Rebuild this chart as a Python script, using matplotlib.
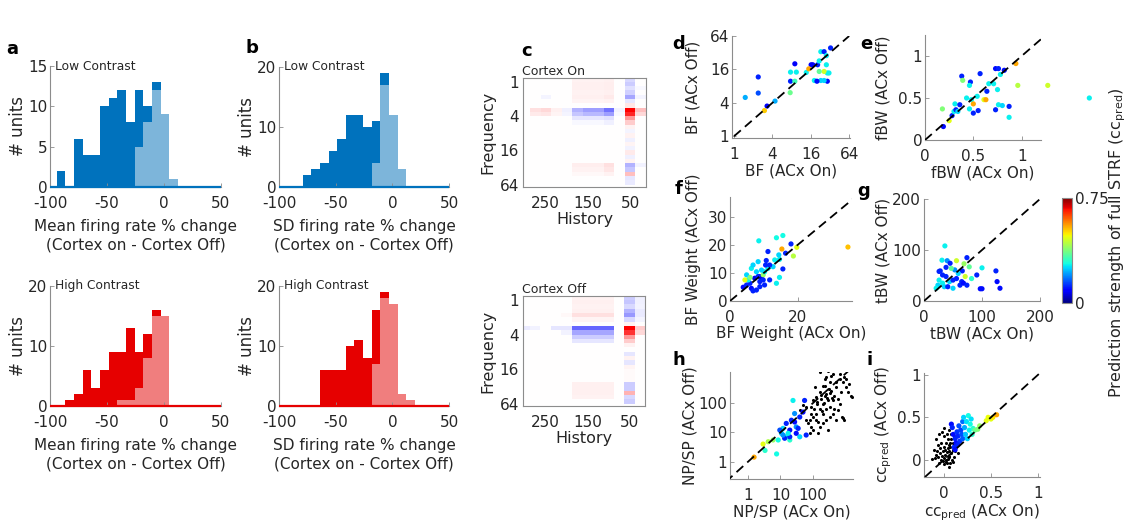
import numpy as np
import matplotlib
matplotlib.use("Agg")
import matplotlib.pyplot as plt
from matplotlib.ticker import FixedLocator, FixedFormatter, NullFormatter, LogLocator

plt.rcParams['font.family'] = ['DejaVu Sans']
plt.rcParams['axes.unicode_minus'] = False

# ---------------------------------------------------------------- data
# histogram bins (% change), 7.6 wide
bin_edges = np.linspace(-101.8, 50.2, 21)

mean_low_all = [0, 2, 0, 6, 4, 4, 10, 11, 12, 8, 12, 10, 13, 9, 1, 0, 0, 0, 0, 0]
mean_low_ns = [0, 0, 0, 0, 0, 0, 0, 0, 0, 0, 5, 8, 12, 9, 1, 0, 0, 0, 0, 0]
mean_high_all = [0, 0, 1, 2, 6, 3, 6, 9, 9, 13, 9, 12, 16, 15, 0, 0, 0, 0, 0, 0]
mean_high_ns = [0, 0, 0, 0, 0, 0, 0, 0, 1, 1, 3, 8, 15, 15, 0, 0, 0, 0, 0, 0]
sd_low_all = [0, 0, 0, 2, 3, 4, 6, 8, 12, 12, 10, 11, 19, 12, 3, 0, 0, 0, 0, 0]
sd_low_ns = [0, 0, 0, 0, 0, 0, 0, 0, 0, 0, 0, 4, 17, 12, 3, 0, 0, 0, 0, 0]
sd_high_all = [0, 0, 0, 0, 0, 6, 6, 6, 10, 11, 8, 16, 19, 17, 2, 1, 0, 0, 0, 0]
sd_high_ns = [0, 0, 0, 0, 0, 0, 0, 0, 0, 0, 0, 7, 18, 17, 2, 1, 0, 0, 0, 0]

# STRF: history columns (ms) and quarter-octave frequency rows (log2 kHz)
history_ms = [300, 275, 250, 225, 200, 175, 150, 125, 100, 75, 50, 25]
freq_oct_edges = np.linspace(-0.25, 6.25, 27)

strf_on = [
    [0, 0, 0, 0, 0, .05, .05, .05, .06, 0, -.15, 0],
    [0, 0, 0, 0, 0, .06, .06, .06, .07, 0, -.20, 0],
    [0, 0, 0, 0, 0, .06, .06, .06, .07, 0, -.12, -.03],
    [0, 0, 0, 0, 0, .05, .05, .05, .06, 0, -.18, 0],
    [0, 0, -.04, 0, 0, .06, .06, .06, .08, 0, -.35, -.04],
    [0, 0, 0, 0, 0, .04, .04, .04, .05, 0, -.10, 0],
    [0, 0, 0, 0, 0, 0, 0, 0, 0, 0, .10, 0],
    [0, .12, .15, .06, -.06, -.30, -.38, -.38, -.55, -.05, 1.0, .25],
    [0, .08, .10, .04, -.04, -.22, -.28, -.28, -.38, -.03, .85, .15],
    [0, 0, 0, 0, 0, -.10, -.10, -.10, -.12, 0, .40, 0],
    [0, 0, 0, 0, 0, -.03, -.03, -.03, -.06, 0, .20, 0],
    [0, 0, 0, 0, 0, 0, 0, 0, 0, 0, .05, 0],
    [0, 0, 0, 0, 0, 0, 0, 0, 0, 0, -.04, 0],
    [0, 0, 0, 0, 0, 0, 0, 0, 0, 0, .05, 0],
    [0, 0, 0, 0, 0, 0, 0, 0, 0, 0, -.06, 0],
    [0, 0, 0, 0, 0, 0, 0, 0, 0, 0, .04, 0],
    [0, 0, 0, 0, 0, 0, 0, 0, 0, 0, -.05, 0],
    [0, 0, 0, 0, 0, 0, 0, 0, 0, 0, .08, 0],
    [0, 0, 0, 0, 0, 0, 0, 0, 0, 0, -.06, 0],
    [0, 0, 0, 0, 0, 0, 0, 0, 0, 0, .05, 0],
    [0, 0, 0, 0, 0, .07, .07, .07, .12, 0, -.30, -.05],
    [0, 0, 0, 0, 0, .05, .05, .05, .10, 0, -.22, 0],
    [0, 0, 0, 0, 0, .03, .03, .03, .05, 0, .25, 0],
    [0, 0, 0, 0, 0, 0, 0, 0, 0, 0, -.10, 0],
    [0, 0, 0, 0, 0, 0, 0, 0, 0, 0, -.08, 0],
    [0, 0, 0, 0, 0, 0, 0, 0, 0, 0, 0, 0],
]

strf_off = [
    [0, 0, 0, 0, 0, .05, .05, .05, .05, 0, -.20, -.06],
    [0, 0, 0, 0, 0, .06, .06, .06, .06, 0, -.22, -.06],
    [0, 0, 0, 0, 0, .05, .05, .05, .05, 0, -.15, -.05],
    [0, 0, 0, 0, 0, .06, .06, .06, .06, 0, -.30, -.08],
    [0, 0, 0, 0, .03, .12, .12, .12, .12, 0, -.40, -.08],
    [0, 0, 0, 0, 0, .04, .04, .04, .04, 0, -.15, -.04],
    [0, 0, 0, 0, 0, 0, 0, 0, 0, 0, .05, 0],
    [-.08, -.05, 0, -.10, -.10, -.60, -.60, -.60, -.60, 0, 1.0, .20],
    [0, 0, 0, 0, -.05, -.35, -.35, -.35, -.35, 0, .80, .15],
    [0, 0, 0, 0, 0, -.20, -.20, -.20, -.20, 0, .40, 0],
    [0, 0, 0, 0, 0, -.10, -.10, -.10, -.10, 0, .20, 0],
    [0, 0, 0, 0, 0, 0, 0, 0, 0, 0, .05, 0],
    [0, 0, 0, 0, 0, 0, 0, 0, 0, 0, 0, 0],
    [0, 0, 0, 0, 0, 0, 0, 0, 0, 0, -.10, 0],
    [0, 0, 0, 0, 0, 0, 0, 0, 0, 0, .05, 0],
    [0, 0, 0, 0, 0, 0, 0, 0, 0, 0, -.10, 0],
    [0, 0, 0, 0, 0, 0, 0, 0, 0, 0, .04, 0],
    [0, 0, 0, 0, 0, 0, 0, 0, 0, 0, .02, 0],
    [0, 0, 0, 0, 0, 0, 0, 0, 0, 0, .02, 0],
    [0, 0, 0, 0, 0, 0, 0, 0, 0, 0, .02, 0],
    [0, 0, 0, 0, 0, .06, .06, .06, .06, 0, -.20, 0],
    [0, 0, 0, 0, 0, .06, .06, .06, .06, 0, -.20, 0],
    [0, 0, 0, 0, 0, .06, .06, .06, .06, 0, .30, 0],
    [0, 0, 0, 0, 0, .05, .05, .05, .05, 0, -.15, 0],
    [0, 0, 0, 0, 0, 0, 0, 0, 0, 0, -.20, 0],
    [0, 0, 0, 0, 0, 0, 0, 0, 0, 0, 0, 0],
]

# d: best frequency (kHz)
bf_on = [1.5, 2.4, 2.4, 3.3, 3.0, 4.4, 7.6, 7.7, 7.7, 9.0, 9.5, 9.0, 13.6, 16.2, 14.9, 18.2,
         17.2, 20.5, 21.7, 23.0, 25.9, 28.1, 32.7, 28.1, 29.1, 25.9, 23.0, 20.0, 30.9, 29.1,
         25.9, 21.7]
bf_off = [5.0, 11.7, 6.0, 3.5, 2.9, 4.3, 6.1, 9.8, 14.3, 20.2, 14.3, 9.8, 14.1, 19.4, 16.4,
          10.1, 19.4, 19.4, 22.8, 33.4, 33.4, 28.3, 39.0, 19.4, 13.8, 14.7, 10.1, 9.8, 13.8,
          9.8, 10.1, 14.7]
bf_cc = [.22, .12, .15, .08, .52, .22, .36, .12, .27, .08, .27, .32, .27, .08, .55, .27,
         .08, .12, .27, .27, .12, .27, .12, .27, .27, .45, .25, .10, .27, .10, .25, .35]

# e: frequency bandwidth (octaves)
fbw_on = [.18, .25, .19, .28, .30, .32, .34, .31, .36, .38, .39, .47, .46, .43, .48, .50, .54,
          .57, .61, .63, .66, .73, .75, .76, .80, .73, .76, .78, .82, .87, .87, .94, .96, .50,
          .46, .55, .64, .71, 1.27, 1.70]
fbw_off = [.37, .23, .16, .29, .34, .36, .34, .43, .42, .76, .71, .69, .65, .50, .48, .43, .52,
           .79, .48, .48, .67, .36, .60, .42, .41, .85, .85, .78, .83, .40, .27, .91, .65, .32,
           .37, .35, .58, .67, .65, .50]
fbw_cc = [.38, .47, .10, .12, .27, .12, .25, .27, .12, .12, .38, .12, .27, .27, .27, .55, .27,
          .12, .47, .55, .27, .12, .27, .27, .25, .10, .12, .27, .10, .12, .27, .55, .43, .12,
          .27, .12, .12, .27, .45, .27]

# f: weight at best frequency
bfw_on = [8.5, 13.7, 15.6, 15.3, 18.0, 19.7, 18.7, 34.8, 15.6, 14.6, 10.7, 12.7, 11.7, 13.7,
          14.6, 3.9, 4.9, 5.9, 5.4, 6.3, 6.8, 7.8, 7.3, 7.8, 6.3, 8.8, 8.3, 9.3, 8.8, 9.8,
          10.2, 11.2, 11.7, 10.5, 9.8, 10.2, 8.8, 9.3, 4.9, 5.9, 4.4, 13.2, 14.4, 16.4, 11.2,
          8.3, 6.8]
bfw_off = [21.4, 22.5, 23.3, 18.5, 20.3, 19.1, 16.0, 19.2, 11.4, 14.8, 14.4, 12.2, 7.5, 6.3,
           8.4, 4.9, 5.7, 6.3, 7.5, 4.5, 3.6, 3.9, 8.1, 10.4, 11.6, 8.7, 8.7, 7.8, 6.9, 9.3,
           10.4, 11.6, 12.8, 12.8, 7.5, 5.7, 5.1, 11.0, 9.3, 8.4, 7.5, 14.6, 16.4, 17.0, 17.6,
           14.0, 12.8]
bfw_cc = [.27, .28, .28, .55, .12, .47, .43, .53, .12, .27, .12, .25, .12, .27, .27, .10, .12,
          .12, .27, .10, .12, .12, .07, .25, .27, .07, .12, .07, .12, .40, .27, .27, .12, .12,
          .12, .12, .12, .25, .25, .38, .47, .27, .25, .12, .12, .25, .25]

# g: temporal bandwidth (ms)
tbw_on = [36, 31, 40, 28, 38, 56, 74, 78, 66, 71, 82, 91, 100, 124, 126, 131, 97, 100, 26,
          32, 38, 44, 50, 56, 62, 65, 68, 59, 53, 47, 45, 32, 24, 21, 35, 41, 50, 74, 69, 26]
tbw_off = [108, 80, 79, 59, 66, 79, 85, 67, 59, 48, 44, 51, 65, 59, 38, 25, 24, 24, 41, 35,
           48, 38, 41, 44, 31, 38, 35, 54, 61, 64, 74, 51, 31, 25, 28, 28, 25, 31, 73, 58]
tbw_cc = [.27, .27, .20, .12, .12, .45, .12, .35, .12, .45, .30, .12, .27, .12, .10, .10, .10,
          .10, .27, .27, .12, .25, .12, .12, .12, .12, .10, .25, .20, .35, .12, .12, .25, .27,
          .25, .12, .25, .12, .40, .12]

# h: noise power / signal power (log10), fitted units coloured, others black
npsp_on_log = [.18, .46, .62, .77, .52, .88, .93, 1.03, 1.08, 1.18, 1.29, 1.39, 1.60, 1.49,
               1.75, 1.70, 1.60, 1.44, 1.29, 1.13, 1.29, 1.49, 1.80, 1.18, 1.34, 1.55, 1.44,
               .98, 1.08, 1.24]
npsp_off_log = [.15, .60, .68, .74, .38, .26, .74, .97, 1.14, .85, .74, 2.10, .85, 1.19, 2.10,
                1.70, 1.53, 1.36, 1.08, .80, .85, .97, .91, 1.31, 1.42, 1.14, 1.65, 1.08, .91,
                .97]
npsp_cc = [.55, .47, .42, .40, .30, .28, .28, .25, .25, .28, .30, .27, .25, .20, .12, .10, .12,
           .10, .10, .12, .12, .10, .12, .12, .12, .12, .20, .15, .20, .27]
npsp_on_log_nofit = [2.22, 2.42, 2.58, 2.84, 2.94, 3.04, 3.14, 3.20, 3.23, 2.73, 2.58, 2.42,
                     2.32, 2.22, 2.11, 2.01, 1.96, 2.32, 2.47, 2.63, 2.78, 2.84, 2.68, 2.53,
                     2.22, 2.11, 1.96, 1.91, 1.86, 2.01, 2.32, 2.42, 2.16, 2.22, 2.32, 2.47,
                     2.63, 2.78, 2.94, 2.99, 2.91, 2.42, 2.27, 2.13, 2.37, 2.53, 2.73, 2.11,
                     1.96, 1.80, 1.80, 1.70, 1.60, 2.06, 2.47, 3.04, 3.09, 2.68, 2.89, 2.53,
                     2.73, 2.01, 1.91, 2.16, 2.84, 2.99, 2.63, 2.37, 2.15, 2.25, 2.35, 2.45,
                     2.55, 2.60, 2.05, 2.30, 2.50, 2.40]
npsp_off_log_nofit = [3.07, 2.90, 2.95, 2.84, 2.73, 2.84, 2.67, 2.27, 2.22, 2.56, 2.44, 2.33,
                      2.61, 2.39, 2.22, 2.10, 1.88, 1.99, 2.10, 2.10, 2.16, 1.99, 1.82, 1.88,
                      1.82, 1.65, 1.65, 1.42, 1.31, 1.53, 1.65, 1.42, 1.36, 1.19, 1.31, 1.08,
                      1.65, 1.76, 1.48, 1.42, 1.53, 1.82, 2.16, 1.99, 2.27, 2.73, 2.73, 1.42,
                      1.19, 1.42, 1.88, 1.93, 1.76, 2.56, 3.13, 2.56, 2.39, 2.27, 2.39, 1.53,
                      1.42, 1.08, 0.97, 0.97, 3.01, 2.92, 3.01, 2.84, 2.05, 2.30, 2.00, 2.20,
                      2.35, 2.20, 1.80, 1.75, 2.50, 2.60]

# i: prediction correlation
cc_on = [.08, .09, .10, .12, .11, .13, .14, .15, .16, .17, .18, .19, .20, .20, .12, .15, .21,
         .22, .23, .24, .25, .26, .27, .28, .30, .29, .31, .33, .36, .38, .45, .47, .50, .52,
         .56]
cc_off = [.42, .38, .30, .25, .15, .20, .33, .28, .40, .22, .35, .30, .45, .25, .12, .18, .50,
          .38, .30, .45, .25, .52, .35, .42, .30, .48, .37, .35, .36, .40, .46, .50, .48, .50,
          .53]
cc_cc = [.10, .12, .10, .12, .12, .10, .13, .12, .15, .13, .14, .15, .17, .16, .10, .12, .25,
         .22, .24, .26, .25, .28, .27, .28, .30, .26, .30, .36, .38, .40, .47, .48, .47, .50,
         .55]
cc_on_nofit = [-.08, -.05, -.02, .00, .03, .06, .08, -.06, -.03, .00, .02, .05, .07, .10, -.10,
               -.07, -.04, -.01, .01, .03, .05, .08, .10, .12, -.09, -.06, -.03, .00, .02, .04,
               .06, .09, -.12, -.05, .00, .03, .07, .11, .13, .15, -.02, .01, .04, -.04, .06,
               .02, -.01, .05, .08, .11, .00, -.08, .10, .04, .07]
cc_off_nofit = [.25, .30, .33, .28, .30, .35, .25, .18, .20, .15, .20, .18, .15, .20, .12, .10,
                .08, .10, .06, .09, .05, .08, .12, .10, .02, .04, .00, .02, -.02, .01, .03, .00,
                .01, -.04, -.05, -.03, -.04, .04, .15, .08, .05, .12, .14, .14, .10, .00, -.01,
                -.08, .30, .28, .38, .06, -.02, .24, .20]

CC_MAX = 0.75

# ---------------------------------------------------------------- figure
W, H = 1127, 523
fig = plt.figure(figsize=(W / 100, H / 100), dpi=100)

AXIS_GRAY = '#8c8c8c'
TEXT = '#262626'
BLUE_DARK, BLUE_LIGHT = '#0072BD', '#7DB5DA'
RED_DARK, RED_LIGHT = '#E60000', '#F07E7E'
XPAD = 6.5


def add_ax(x0, y0, x1, y1):
    ax = fig.add_axes([x0 / W, 1 - y1 / H, (x1 - x0) / W, (y1 - y0) / H])
    ax._px = (x0, x1)
    return ax


def ylabel_at(ax, text, x_center, size=11):
    """Place a vertical y label so its centre sits at pixel column x_center."""
    x0, x1 = ax._px
    right_edge = x_center + size * 100 / 72 * 0.5
    ax.set_ylabel(text, fontsize=size, color=TEXT)
    ax.yaxis.set_label_coords((right_edge - x0) / (x1 - x0), 0.5)


def style(ax, box=False, size=10):
    ax.spines['top'].set_visible(box)
    ax.spines['right'].set_visible(box)
    for s in ax.spines.values():
        s.set_color(AXIS_GRAY)
        s.set_linewidth(0.8)
    ax.tick_params(which='both', direction='in', length=3, width=0.6, color=AXIS_GRAY,
                   labelcolor=TEXT, labelsize=size, pad=2)
    ax.tick_params(which='minor', length=1.5)
    ax.tick_params(axis='x', which='major', pad=XPAD)


def letter(x, y, s):
    fig.text(x / W, 1 - y / H, s, fontsize=13, fontweight='bold', ha='center', va='center',
             color='black')


def hist_panel(box, all_counts, ns_counts, dark, light, ymax, yticks, tag, xlabel):
    ax = add_ax(*box)
    widths = np.diff(bin_edges)
    ax.bar(bin_edges[:-1], all_counts, width=widths, align='edge', color=dark, lw=0)
    ax.bar(bin_edges[:-1], ns_counts, width=widths, align='edge', color=light, lw=0)
    ax.plot([-100, 50], [0, 0], color=dark, lw=1.6, solid_capstyle='butt', zorder=3,
            clip_on=False)
    ax.set_xlim(-100, 50)
    ax.set_ylim(0, ymax)
    ax.set_xticks([-100, -50, 0, 50])
    ax.set_yticks(yticks)
    style(ax, size=11)
    ax.set_ylabel('# units', fontsize=12, color=TEXT, labelpad=1)
    ax.set_xlabel(xlabel, fontsize=11, color=TEXT, linespacing=1.3, labelpad=6)
    ax.text(0.03, 1.0, tag, transform=ax.transAxes, fontsize=8.8, va='center', ha='left',
            color=TEXT)
    return ax


mean_lbl = 'Mean firing rate % change\n(Cortex on - Cortex Off)'
sd_lbl = 'SD firing rate % change\n(Cortex on - Cortex Off)'
hist_panel((50, 66, 221, 187), mean_low_all, mean_low_ns, BLUE_DARK, BLUE_LIGHT, 15,
           [0, 5, 10, 15], 'Low Contrast', mean_lbl)
hist_panel((279, 67, 449, 187), sd_low_all, sd_low_ns, BLUE_DARK, BLUE_LIGHT, 20,
           [0, 10, 20], 'Low Contrast', sd_lbl)
hist_panel((50, 286, 221, 406), mean_high_all, mean_high_ns, RED_DARK, RED_LIGHT, 20,
           [0, 10, 20], 'High Contrast', mean_lbl)
hist_panel((279, 286, 449, 406), sd_high_all, sd_high_ns, RED_DARK, RED_LIGHT, 20,
           [0, 10, 20], 'High Contrast', sd_lbl)

# ---- STRFs
hist_edges = np.array(history_ms + [0]) + 12.5
for box, strf, title in [((523, 78, 646, 187), strf_on, 'Cortex On'),
                         ((523, 296, 645, 406), strf_off, 'Cortex Off')]:
    ax = add_ax(*box)
    ax.pcolormesh(hist_edges, freq_oct_edges, np.array(strf), cmap='bwr', vmin=-1, vmax=1,
                  shading='flat')
    ax.set_xlim(304, 12.5)
    ax.set_ylim(6.14, -0.23)
    ax.set_yticks([0, 2, 4, 6])
    ax.set_yticklabels(['1', '4', '16', '64'])
    ax.set_xticks([250, 150, 50])
    style(ax, box=True, size=11)
    ax.tick_params(length=0)
    ax.tick_params(axis='y', pad=3)
    ax.set_ylabel('Frequency', fontsize=11.5, color=TEXT, labelpad=3)
    ax.set_xlabel('History', fontsize=11.5, color=TEXT, labelpad=1)
    ax.set_title(title, fontsize=9, color=TEXT, loc='left', pad=2, x=-0.01)

# ---- scatter panels
scat_kw = dict(cmap='jet', vmin=0, vmax=CC_MAX, s=14, linewidths=0, zorder=2)


def diag(ax, lo, hi):
    ax.plot([lo, hi], [lo, hi], color='black', lw=1.3, dashes=(5, 3), zorder=3)


# d
ax = add_ax(732, 36, 850, 138)
ax.scatter(bf_on, bf_off, c=bf_cc, **scat_kw)
ax.set_xscale('log', base=2)
ax.set_yscale('log', base=2)
diag(ax, 1, 64)
ax.set_xlim(0.93, 66)
ax.set_ylim(0.93, 64)
for a in (ax.xaxis, ax.yaxis):
    a.set_major_locator(FixedLocator([1, 4, 16, 64]))
    a.set_major_formatter(FixedFormatter(['1', '4', '16', '64']))
    a.set_minor_locator(FixedLocator([]))
style(ax, size=11)
ax.set_xlabel('BF (ACx On)', fontsize=11, color=TEXT, labelpad=1)
ylabel_at(ax, 'BF (ACx Off)', 693)

# e
ax = add_ax(925, 35, 1041, 140)
ax.scatter(fbw_on, fbw_off, c=fbw_cc, clip_on=False, **scat_kw)
diag(ax, 0, 1.25)
ax.set_xlim(0, 1.2)
ax.set_ylim(0, 1.25)
ax.set_xticks([0, 0.5, 1])
ax.set_xticklabels(['0', '0.5', '1'])
ax.set_yticks([0, 0.5, 1])
ax.set_yticklabels(['0', '0.5', '1'])
style(ax, size=11)
ax.set_xlabel('fBW (ACx On)', fontsize=11, color=TEXT, labelpad=1)
ylabel_at(ax, 'fBW (ACx Off)', 883)

# f
ax = add_ax(730, 197, 852, 301)
ax.scatter(bfw_on, bfw_off, c=bfw_cc, **scat_kw)
diag(ax, 0, 37)
ax.set_xlim(0, 36)
ax.set_ylim(0, 37)
ax.set_xticks([0, 20])
ax.set_yticks([0, 10, 20, 30])
style(ax, size=11)
ax.set_xlabel('BF Weight (ACx On)', fontsize=11, color=TEXT, labelpad=1)
ylabel_at(ax, 'BF Weight (ACx Off)', 693)

# g
ax = add_ax(924, 199, 1040, 301)
ax.scatter(tbw_on, tbw_off, c=tbw_cc, **scat_kw)
diag(ax, 0, 200)
ax.set_xlim(0, 200)
ax.set_ylim(0, 200)
ax.set_xticks([0, 100, 200])
ax.set_yticks([0, 100, 200])
style(ax, size=11)
ax.set_xlabel('tBW (ACx On)', fontsize=11, color=TEXT, labelpad=1)
ylabel_at(ax, 'tBW (ACx Off)', 883)

# h
ax = add_ax(730, 372, 853, 479)
ax.scatter(10 ** np.array(npsp_on_log_nofit), 10 ** np.array(npsp_off_log_nofit), s=5,
           color='black', linewidths=0, zorder=2)
ax.scatter(10 ** np.array(npsp_on_log), 10 ** np.array(npsp_off_log), c=npsp_cc, **scat_kw)
ax.set_xscale('log')
ax.set_yscale('log')
diag(ax, 0.2, 3000)
ax.set_xlim(0.27, 1800)
ax.set_ylim(0.25, 1200)
for a in (ax.xaxis, ax.yaxis):
    a.set_major_locator(FixedLocator([1, 10, 100]))
    a.set_major_formatter(FixedFormatter(['1', '10', '100']))
    a.set_minor_locator(LogLocator(base=10, subs=np.arange(2, 10)))
    a.set_minor_formatter(NullFormatter())
style(ax, size=11)
ax.set_xlabel('NP/SP (ACx On)', fontsize=11, color=TEXT, labelpad=1)
ylabel_at(ax, 'NP/SP (ACx Off)', 690)

# i
ax = add_ax(924, 373, 1040, 477)
ax.scatter(cc_on_nofit, cc_off_nofit, s=5, color='black', linewidths=0, zorder=2)
ax.scatter(cc_on, cc_off, c=cc_cc, **scat_kw)
diag(ax, -0.2, 1.05)
ax.set_xlim(-0.21, 1.02)
ax.set_ylim(-0.2, 1.02)
ax.set_xticks([0, 0.5, 1])
ax.set_xticklabels(['0', '0.5', '1'])
ax.set_yticks([0, 0.5, 1])
ax.set_yticklabels(['0', '0.5', '1'])
style(ax, size=11)
ax.set_xlabel(r'cc$_{\mathregular{pred}}$ (ACx On)', fontsize=11, color=TEXT, labelpad=1)
ylabel_at(ax, r'cc$_{\mathregular{pred}}$ (ACx Off)', 886)

# colour bar
cax = add_ax(1062, 198, 1072, 303)
sm = plt.cm.ScalarMappable(cmap='jet', norm=plt.Normalize(0, CC_MAX))
cb = fig.colorbar(sm, cax=cax, ticks=[0, CC_MAX])
cb.ax.set_yticklabels(['0', '0.75'])
cb.outline.set_edgecolor(AXIS_GRAY)
cb.outline.set_linewidth(0.8)
cb.ax.tick_params(length=0, labelsize=11, labelcolor=TEXT, pad=2)
fig.text(1118 / W, 1 - 243 / H, r'Prediction strength of full STRF (cc$_{\mathregular{pred}}$)',
         rotation=90, fontsize=11.5, color=TEXT, ha='center', va='center')

# panel letters
for x, y, s in [(12, 49, 'a'), (252, 48, 'b'), (527, 51, 'c'), (679, 44, 'd'),
                (866, 44, 'e'), (679, 189, 'f'), (864, 191, 'g'), (679, 360, 'h'),
                (870, 360, 'i')]:
    letter(x, y, s)

fig.savefig('out.png', dpi=100)
